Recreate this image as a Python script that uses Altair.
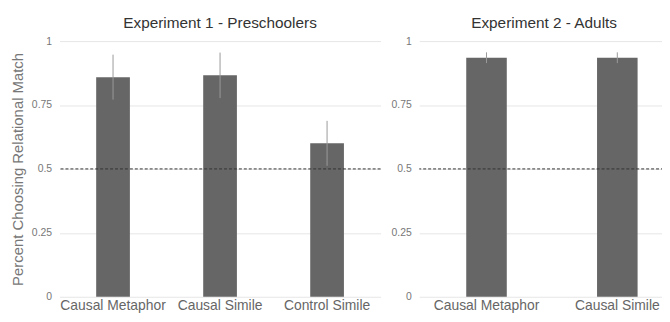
import altair as alt
import pandas as pd

# ---- data ----
exp1_title = "Experiment 1 - Preschoolers"
exp1_conditions = ["Causal Metaphor", "Causal Simile", "Control Simile"]
exp1_means = [0.859, 0.866, 0.600]
exp1_err = [0.088, 0.089, 0.088]

exp2_title = "Experiment 2 - Adults"
exp2_conditions = ["Causal Metaphor", "Causal Simile"]
exp2_means = [0.935, 0.935]
exp2_err = [0.021, 0.021]

y_ticks = [0, 0.25, 0.5, 0.75, 1]
chance_level = [0.5]
y_title = "Percent Choosing Relational Match"

FONT = "Liberation Sans"


def panel(conds, means, errs, title, width, ytitle, pin, pout, align):
    df = pd.DataFrame({
        "condition": conds,
        "mean": means,
        "lo": [m - e for m, e in zip(means, errs)],
        "hi": [m + e for m, e in zip(means, errs)],
    })
    xscale = alt.Scale(paddingInner=pin, paddingOuter=pout, align=align)
    xaxis = alt.Axis(title=None, labelAngle=0, labelFontSize=14, labelColor="#666666",
                     labelPadding=2, ticks=False, domain=False, grid=False, labelFont=FONT)
    yaxis_kwargs = dict(values=y_ticks, labelExpr="'' + datum.value", labelFontSize=10.5,
                        labelColor="#777777", labelPadding=8, ticks=False, domain=False,
                        grid=True, gridColor="#e6e6e6", labelFont=FONT)
    if ytitle:
        yaxis = alt.Axis(title=ytitle, titleFontSize=15, titleColor="#777777",
                         titleFontWeight="normal", titlePadding=6, titleFont=FONT,
                         **yaxis_kwargs)
    else:
        yaxis = alt.Axis(title=None, **yaxis_kwargs)
    x = alt.X("condition:N", sort=conds, scale=xscale, axis=xaxis)
    bars = alt.Chart(df).mark_bar(color="#666666").encode(
        x=x,
        y=alt.Y("mean:Q", scale=alt.Scale(domain=[0, 1]), axis=yaxis),
    )
    err = alt.Chart(df).mark_rule(color="#9a9a9a", strokeWidth=1).encode(
        x=alt.X("condition:N", sort=conds, scale=xscale),
        y="lo:Q",
        y2="hi:Q",
    )
    chance = alt.Chart(pd.DataFrame({"y": chance_level})).mark_rule(
        color="#333333", strokeWidth=1, strokeDash=[3, 2]
    ).encode(y="y:Q")
    return alt.layer(bars, err, chance).properties(
        width=width, height=258,
        title=alt.TitleParams(title, fontSize=15.5, color="#333333", fontWeight="normal",
                              font=FONT, offset=5),
    )


left = panel(exp1_conditions, exp1_means, exp1_err, exp1_title, 324, y_title,
             0.685, 0.3425, 0.5)
right = panel(exp2_conditions, exp2_means, exp2_err, exp2_title, 252, None,
              0.69, 0.2995, 0.6)

chart = alt.hconcat(left, right, spacing=9).properties(
    padding={"left": 2, "top": 6, "right": -8, "bottom": -1}
).configure_view(stroke=None)

chart.save("out.html", embed_options={"renderer": "svg", "actions": False})
